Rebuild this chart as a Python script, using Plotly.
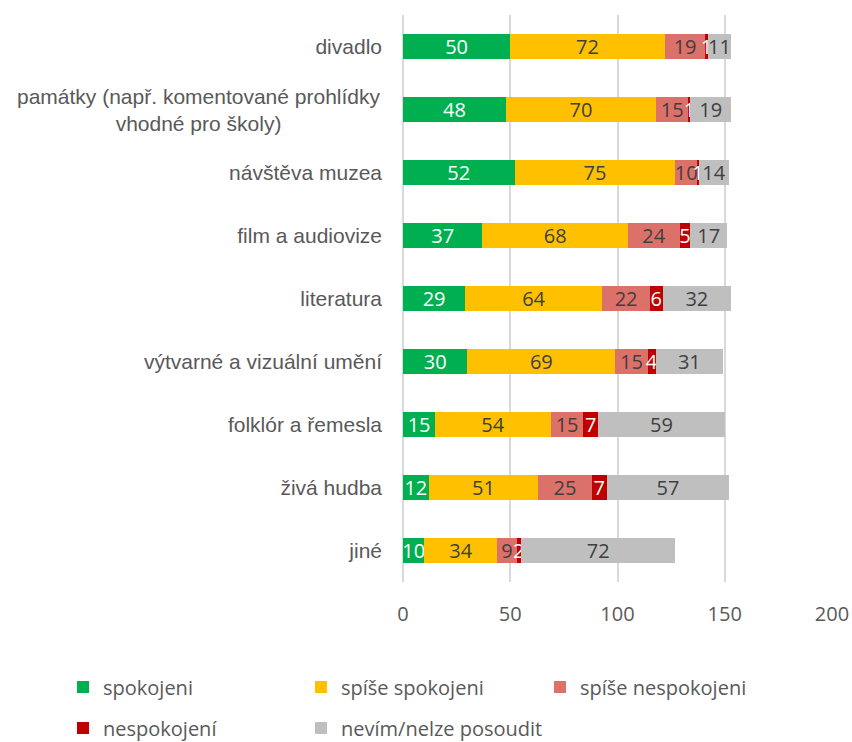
import plotly.graph_objects as go

categories = ["divadlo", "památky (např. komentované prohlídky<br>vhodné pro školy)", "návštěva muzea",
              "film a audiovize", "literatura", "výtvarné a vizuální umění", "folklór a řemesla",
              "živá hudba", "jiné"]
spokojeni = [50, 48, 52, 37, 29, 30, 15, 12, 10]
spise_spokojeni = [72, 70, 75, 68, 64, 69, 54, 51, 34]
spise_nespokojeni = [19, 15, 10, 24, 22, 15, 15, 25, 9]
nespokojeni = [1, 1, 1, 5, 6, 4, 7, 7, 2]
nevim = [11, 19, 14, 17, 32, 31, 59, 57, 72]
x_ticks = [0, 50, 100, 150, 200]

W, H = 852, 742

series = [
    ("spokojeni", spokojeni, "#00b050", "white"),
    ("spíše spokojeni", spise_spokojeni, "#ffc000", "#404040"),
    ("spíše nespokojeni", spise_nespokojeni, "#dc7169", "#404040"),
    ("nespokojení", nespokojeni, "#c00000", "white"),
    ("nevím/nelze posoudit", nevim, "#bfbfbf", "#404040"),
]
# legend text start (px) and row centre (px)
leg_pos = [(103, 687), (341, 687), (580, 687), (103, 728), (341, 728)]

fig = go.Figure()
legends = {}
for i, (name, vals, col, tcol) in enumerate(series):
    lname = "legend" if i == 0 else f"legend{i + 1}"
    fig.add_trace(go.Bar(
        y=categories, x=vals, name=name, orientation="h", legend=lname,
        marker=dict(color=col, line=dict(width=0)),
        text=[str(v) for v in vals], textposition="inside",
        insidetextanchor="middle", textangle=0,
        textfont=dict(color=tcol, size=20, family="Open Sans"),
        cliponaxis=False,
    ))
    tx, ty = leg_pos[i]
    legends[lname] = dict(orientation="h", xref="container", yref="container",
                          x=(tx - 40) / W, xanchor="left",
                          y=1 - ty / H, yanchor="middle",
                          font=dict(size=20, color="#595959", family="Open Sans"),
                          bgcolor="rgba(0,0,0,0)", visible=True)

ticktext = ["" if "<br>" in c else c for c in categories]
fig.add_annotation(
    x=0, xref="paper", y=categories[1], yref="y", xanchor="right", xshift=-20,
    text=categories[1], showarrow=False, align="center",
    font=dict(family="Liberation Sans", size=21, color="#595959"),
)

fig.update_layout(
    barmode="stack", bargap=0.6,
    width=W, height=H, showlegend=True,
    margin=dict(l=403, r=20, t=15, b=H - 582, autoexpand=False),
    plot_bgcolor="white", paper_bgcolor="white",
    font=dict(family="Open Sans", color="#595959", size=18),
    uniformtext=dict(minsize=20, mode="show"),
    xaxis=dict(range=[0, 200], tickvals=x_ticks, showgrid=True, gridcolor="#d9d9d9", gridwidth=2,
               zeroline=True, zerolinecolor="#d9d9d9", zerolinewidth=2, automargin=False,
               tickfont=dict(size=20, color="#595959", family="Open Sans"), ticklabelstandoff=18),
    yaxis=dict(autorange="reversed", showgrid=False, ticklabelstandoff=20, automargin=False,
               tickvals=categories, ticktext=ticktext,
               tickfont=dict(size=21, color="#595959", family="Liberation Sans")),
    **legends,
)

fig.write_html("out.html", config={"displayModeBar": False},
               post_script="document.body.style.margin='0';document.body.style.overflow='hidden';")
